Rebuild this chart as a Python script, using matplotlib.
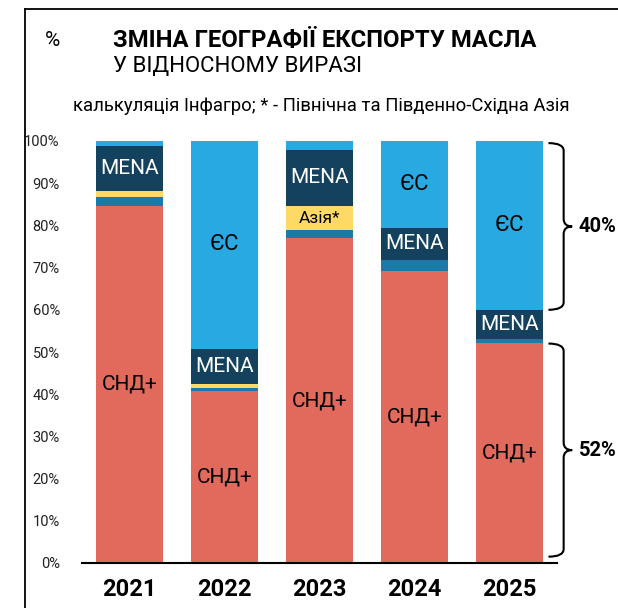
import numpy as np
import matplotlib
matplotlib.use('Agg')
import matplotlib.pyplot as plt
from matplotlib.path import Path
from matplotlib.patches import PathPatch

plt.rcParams['font.family'] = ['Roboto', 'DejaVu Sans']

years = ['2021', '2022', '2023', '2024', '2025']
cis = [84.6, 40.8, 77.0, 69.2, 52.1]
other = [2.1, 0.7, 1.9, 2.6, 1.0]
asia = [1.4, 1.0, 5.7, 0.0, 0.0]
mena = [10.7, 8.3, 13.3, 7.6, 6.9]
eu = [1.2, 49.2, 2.1, 20.6, 40.0]

series = [
    ('СНД+', cis, '#E26A5C'),
    ('other', other, '#1F78AA'),
    ('Азія*', asia, '#FFD966'),
    ('MENA', mena, '#14425E'),
    ('ЄС', eu, '#29A9E1'),
]
# which segments get an inside label
labels = {
    'СНД+': [True, True, True, True, True],
    'Азія*': [False, False, True, False, False],
    'MENA': [True, True, True, True, True],
    'ЄС': [False, True, False, True, True],
}
label_style = {
    'СНД+': dict(color='black', fontsize=15),
    'Азія*': dict(color='black', fontsize=12.5),
    'MENA': dict(color='white', fontsize=15),
    'ЄС': dict(color='black', fontsize=16),
}

fig = plt.figure(figsize=(6.18, 6.08), dpi=100)
ax = fig.add_axes([82/618, 1-563/608, 475/618, 422/608])

x = np.arange(len(years))
bottom = np.zeros(len(years))
for name, vals, col in series:
    vals = np.array(vals)
    ax.bar(x, vals, 0.7, bottom=bottom, color=col, linewidth=0)
    if name in labels:
        for i, v in enumerate(vals):
            if labels[name][i]:
                ax.text(x[i], bottom[i] + v / 2, name, ha='center', va='center',
                        **label_style[name])
    bottom += vals

ax.set_xlim(-0.5, 4.5)
ax.set_ylim(0, 100)
ax.set_yticks(np.arange(0, 101, 10))
ax.set_yticklabels([f'{v}%' for v in range(0, 101, 10)], fontsize=10.5, color='#222222')
ax.set_xticks(x)
ax.set_xticklabels(years, fontsize=17, fontweight='bold')
ax.tick_params(axis='y', length=0, pad=16)
ax.tick_params(axis='x', length=0, pad=11)
for s in ['top', 'right', 'left']:
    ax.spines[s].set_visible(False)
ax.spines['bottom'].set_linewidth(1.5)


def brace(ax, y0, y1, label):
    x0, x1, x2 = 4.41, 4.57, 4.66
    r = 1.8
    ym = (y0 + y1) / 2
    verts = [(x0, y1), (x1, y1), (x1, y1 - r),
             (x1, ym + r), (x1, ym), (x2, ym),
             (x1, ym), (x1, ym - r),
             (x1, y0 + r), (x1, y0), (x0, y0)]
    codes = [Path.MOVETO, Path.CURVE3, Path.CURVE3,
             Path.LINETO, Path.CURVE3, Path.CURVE3,
             Path.CURVE3, Path.CURVE3,
             Path.LINETO, Path.CURVE3, Path.CURVE3]
    ax.add_patch(PathPatch(Path(verts, codes), fill=False, lw=1.5,
                           edgecolor='black', clip_on=False))
    ax.text(x2 + 0.07, ym, label, ha='left', va='center', fontsize=14.5,
            fontweight='bold', clip_on=False)


brace(ax, 1.5, 52, '52%')
brace(ax, 60, 99.5, '40%')

# frame
fig.add_artist(plt.Line2D([25/618, 25/618], [0, 1-9/608], color='black', lw=1.3))
fig.add_artist(plt.Line2D([25/618, 1], [1-9/608, 1-9/608], color='black', lw=1.3))

fig.text(45/618, 1-40/608, '%', fontsize=15, va='center', ha='left')
fig.text(113/618, 1-41/608, 'ЗМІНА ГЕОГРАФІЇ ЕКСПОРТУ МАСЛА', fontsize=17.2,
         fontweight='bold', va='center', ha='left')
fig.text(113/618, 1-67/608, 'У ВІДНОСНОМУ ВИРАЗІ', fontsize=16,
         va='center', ha='left')
fig.text(321/618, 1-106/608, 'калькуляція Інфагро; * - Північна та Південно-Східна Азія',
         fontsize=13.3, va='center', ha='center')

fig.savefig('out.png', dpi=100)
